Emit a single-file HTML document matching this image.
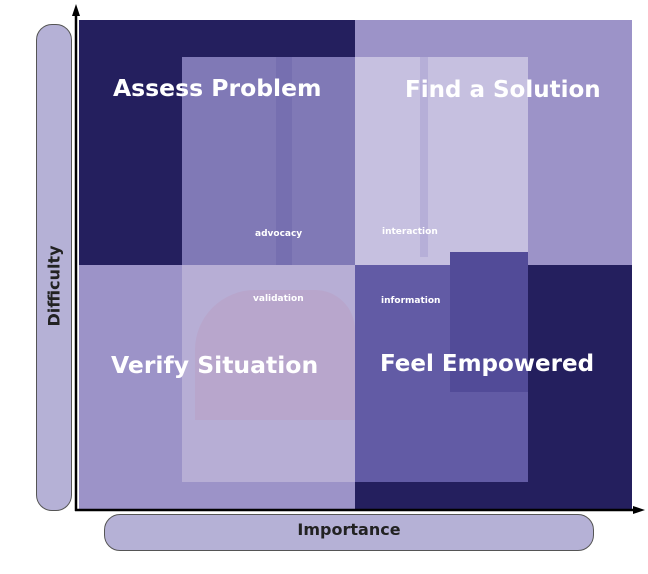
<!DOCTYPE html>
<html><head><style>
body{margin:0;width:648px;height:574px;background:#fff;position:relative;overflow:hidden;font-family:"DejaVu Sans","Liberation Sans",sans-serif;}
div{position:absolute;box-sizing:border-box}
.t{color:#fff;font-weight:bold;white-space:nowrap}
.s{color:#fff;font-weight:bold;font-size:9px;white-space:nowrap}
</style></head><body>
<div style="left:79px;top:20px;width:276px;height:245px;background:#241f5e"></div>
<div style="left:355px;top:20px;width:277px;height:245px;background:#9c93c8"></div>
<div style="left:79px;top:265px;width:276px;height:244px;background:#9c93c8"></div>
<div style="left:355px;top:265px;width:277px;height:244px;background:#241f5e"></div>
<!-- photo area -->
<div style="left:182px;top:57px;width:173px;height:208px;background:#8079b6"></div>
<div style="left:355px;top:57px;width:173px;height:208px;background:#c6c0e0"></div>
<div style="left:182px;top:265px;width:173px;height:217px;background:#b7aed5"></div>
<div style="left:355px;top:265px;width:173px;height:217px;background:#625ba5"></div>
<div style="left:276px;top:57px;width:16px;height:208px;background:#766fb0"></div>
<div style="left:420px;top:57px;width:8px;height:200px;background:#b6afd8"></div>
<div style="left:450px;top:252px;width:78px;height:140px;background:#524b98"></div>
<div style="left:195px;top:290px;width:160px;height:130px;background:#b8a6cc;border-radius:60px 40px 0 0"></div>
<div class="t" style="left:113px;top:74px;font-size:23.5px">Assess Problem</div>
<div class="t" style="left:405px;top:77px;font-size:23px">Find a Solution</div>
<div class="t" style="left:111px;top:351px;font-size:23.5px">Verify Situation</div>
<div class="t" style="left:380px;top:351px;font-size:23px">Feel Empowered</div>
<div class="s" style="left:255px;top:229px">advocacy</div>
<div class="s" style="left:382px;top:227px">interaction</div>
<div class="s" style="left:253px;top:294px">validation</div>
<div class="s" style="left:381px;top:296px">information</div>
<!-- pills -->
<div style="left:36px;top:24px;width:36px;height:487px;background:#b5b1d6;border:1.5px solid #555;border-radius:16px"></div>
<div class="t" style="left:54px;top:286px;color:#222;font-size:16px;transform:translate(-50%,-50%) rotate(-90deg)">Difficulty</div>
<div style="left:104px;top:514px;width:490px;height:37px;background:#b5b1d6;border:1.5px solid #555;border-radius:16px"></div>
<div class="t" style="left:104px;top:520px;width:490px;text-align:center;color:#222;font-size:16px">Importance</div>
<svg style="position:absolute;left:0;top:0" width="648" height="574">
<line x1="76" y1="10" x2="76" y2="511" stroke="#000" stroke-width="2.5"/>
<line x1="75" y1="510" x2="638" y2="510" stroke="#000" stroke-width="2.5"/>
<polygon points="76,4 72,16 80,16" fill="#000"/>
<polygon points="645,510 633,506 633,514" fill="#000"/>
</svg>
</body></html>
